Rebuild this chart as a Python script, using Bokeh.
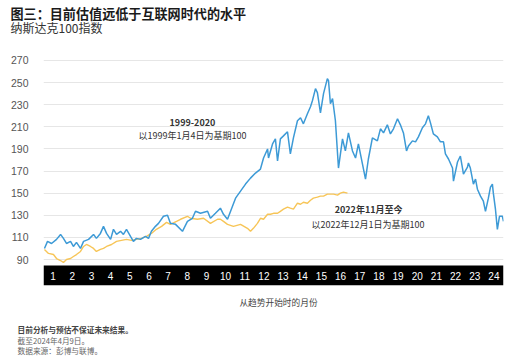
from bokeh.plotting import figure
from bokeh.models import Range1d, FixedTicker, ColumnDataSource
from bokeh.layouts import column
from bokeh.core.properties import value
from bokeh.embed import file_html
from bokeh.resources import INLINE

# ---- data ----
months = [str(i) for i in range(1, 25)]
y_ticks = [90, 110, 130, 150, 170, 190, 210, 230, 250, 270]

blue_m = [0.05, 0.21, 0.42, 0.68, 0.89, 1.04, 1.20, 1.41, 1.56, 1.72, 1.93, 2.09, 2.35, 2.61, 2.76,
          2.97, 3.13, 3.29, 3.50, 3.65, 3.81, 4.02, 4.17, 4.33, 4.54, 4.69, 4.85, 5.06, 5.32, 5.48,
          5.63, 5.84, 6.00, 6.26, 6.47, 6.62, 6.89, 7.25, 7.51, 7.77, 7.93, 8.19, 8.56, 8.71, 8.97,
          9.23, 9.39, 9.60, 9.86, 10.02, 10.28, 10.54, 10.80, 11.06, 11.32, 11.48, 11.69, 11.74,
          11.95, 12.10, 12.21, 12.36, 12.52, 12.73, 12.88, 13.04, 13.25, 13.41, 13.56, 13.77, 13.93,
          14.03, 14.19, 14.29, 14.45, 14.61, 14.81, 14.87, 14.97, 15.08, 15.23, 15.39, 15.60, 15.75,
          15.91, 16.12, 16.28, 16.43, 16.64, 16.80, 16.95, 17.16, 17.42, 17.58, 17.74, 17.94, 18.10,
          18.26, 18.47, 18.62, 18.78, 18.94, 19.04, 19.25, 19.41, 19.56, 19.77, 19.93, 20.08, 20.19,
          20.34, 20.55, 20.71, 20.87, 20.97, 21.13, 21.34, 21.39, 21.60, 21.75, 21.86, 21.91, 22.12,
          22.17, 22.27, 22.43, 22.54, 22.64, 22.80, 22.95, 23.06, 23.21, 23.32, 23.42, 23.47, 23.58,
          23.68, 23.79, 23.94, 24.00]
blue_v = [100.0, 106.4, 104.5, 108.2, 112.7, 109.1, 104.5, 106.4, 101.8, 105.5, 100.0, 106.4, 108.2,
          112.7, 109.1, 113.6, 120.0, 113.6, 108.2, 117.3, 112.7, 115.5, 112.7, 117.3, 110.9, 106.4,
          109.1, 108.2, 110.9, 109.1, 115.5, 120.0, 122.7, 129.1, 130.0, 122.7, 121.8, 115.5, 124.5,
          127.3, 133.6, 131.8, 133.6, 127.3, 131.8, 136.4, 130.9, 126.4, 138.2, 145.5, 151.8, 158.2,
          163.6, 168.2, 171.8, 181.8, 190.0, 181.8, 194.5, 199.1, 179.1, 199.1, 201.8, 205.5, 185.5,
          200.0, 215.5, 218.2, 212.7, 221.8, 228.2, 233.6, 244.5, 240.9, 222.7, 240.0, 253.6, 251.8,
          230.9, 235.5, 215.5, 172.7, 199.1, 188.2, 204.5, 188.2, 181.8, 194.5, 176.4, 162.7, 180.9,
          200.0, 197.3, 208.2, 204.5, 211.8, 203.6, 208.2, 217.3, 211.8, 204.5, 188.2, 192.7, 197.3,
          196.4, 200.9, 209.1, 212.7, 220.0, 213.6, 203.6, 200.9, 196.4, 196.4, 185.5, 180.9, 172.7,
          160.9, 178.2, 183.6, 172.7, 167.3, 173.6, 177.3, 172.7, 158.2, 162.7, 153.6, 147.3, 142.7,
          133.6, 145.5, 155.5, 158.2, 150.0, 135.5, 117.3, 129.1, 129.1, 124.5]

yellow_m = [0.05, 0.26, 0.52, 0.68, 0.89, 1.04, 1.20, 1.41, 1.56, 1.72, 1.93, 2.09, 2.24, 2.45, 2.61,
            2.76, 2.97, 3.13, 3.29, 3.55, 3.81, 4.07, 4.33, 4.59, 4.85, 5.11, 5.37, 5.63, 5.89, 6.16,
            6.42, 6.62, 6.94, 7.15, 7.51, 7.67, 8.03, 8.35, 8.71, 9.08, 9.23, 9.39, 9.60, 9.91, 10.28,
            10.64, 10.80, 10.95, 11.16, 11.32, 11.48, 11.69, 11.84, 12.00, 12.21, 12.36, 12.52, 12.73,
            12.88, 13.04, 13.25, 13.41, 13.56, 13.77, 13.93, 14.08, 14.29, 14.45, 14.61, 14.81, 14.97,
            15.13, 15.34, 15.49, 15.65, 15.86]
yellow_v = [99.1, 95.5, 94.5, 90.9, 89.1, 87.3, 90.0, 90.9, 92.7, 94.5, 97.3, 101.8, 103.6, 101.8,
            100.0, 97.3, 99.1, 100.0, 101.8, 103.6, 106.4, 107.3, 108.2, 107.3, 108.2, 109.1, 110.9,
            113.6, 117.3, 120.0, 123.6, 121.8, 124.5, 126.4, 129.1, 127.3, 126.4, 127.3, 122.7, 126.4,
            126.4, 124.5, 121.8, 120.0, 121.8, 118.2, 115.5, 118.2, 122.7, 127.3, 126.4, 130.9, 130.9,
            131.8, 131.8, 133.6, 135.5, 137.3, 136.4, 135.5, 140.9, 140.0, 141.8, 140.9, 143.6, 145.5,
            146.4, 147.3, 147.3, 149.1, 149.1, 149.1, 148.2, 150.0, 150.9, 150.0]

title_text = "图三：目前估值远低于互联网时代的水平"
subtitle_text = "纳斯达克100指数"
series1_title = "1999-2020"
series1_note = "以1999年1月4日为基期100"
series2_title = "2022年11月至今"
series2_note = "以2022年12月1日为基期100"
x_label = "从趋势开始时的月份"
foot_notes = ["目前分析与预估不保证未来结果。", "截至2024年4月9日。", "数据来源：彭博与联博。"]

BLUE = "#3d9ad6"
YELLOW = "#f7c557"
CJK = "Noto Sans CJK SC"
LAT = "Liberation Sans"
W = 530


def blank(height):
    f = figure(width=W, height=height, x_range=Range1d(0, W), y_range=Range1d(height, 0),
               output_backend="svg", toolbar_location=None, x_axis_location=None, y_axis_location=None,
               min_border=0, frame_align=False)
    f.title.visible = False
    f.outline_line_color = None
    f.xgrid.visible = False
    f.ygrid.visible = False
    return f


def txt(f, x, y, text, size, color, bold=False, align="left"):
    f.text(x=[x], y=[y], text=[text], text_font=value(CJK), text_font_size=size, text_color=color,
           text_font_style="bold" if bold else "normal", text_align=align, text_baseline="middle")


# ---- header ----
top = blank(40)
txt(top, 10, 13, title_text, "13.1px", "#1a1a1a", bold=True)
txt(top, 10, 26.5, subtitle_text, "12px", "#333333")

# ---- main chart ----
p = figure(width=W, height=250, x_range=Range1d(0, len(months)), y_range=Range1d(66.5, 274.5),
           output_backend="svg", toolbar_location=None, x_axis_location=None, frame_align=False,
           min_border_left=43, min_border_right=27, min_border_top=15, min_border_bottom=5)
p.title.visible = False
p.outline_line_color = None

yax = p.yaxis[0]
yax.ticker = FixedTicker(ticks=y_ticks)
yax.axis_line_color = None
yax.major_tick_line_color = None
yax.minor_tick_line_color = None
yax.major_label_standoff = 9
yax.major_label_text_font = LAT
yax.major_label_text_font_size = "10.5px"
yax.major_label_text_color = "#555555"

p.xgrid.visible = False
p.ygrid.ticker = FixedTicker(ticks=y_ticks)
p.ygrid.grid_line_color = "#e6e6e6"
p.ygrid.grid_line_width = 1

p.quad(left=[0], right=[len(months)], bottom=[66.5], top=[84.6], fill_color="black", line_color=None)
msrc = ColumnDataSource(dict(x=[i + 0.5 for i in range(len(months))], y=[75.5] * len(months), t=months))
p.text(x="x", y="y", text="t", source=msrc, text_color="white", text_font=value(LAT),
       text_font_size="10px", text_align="center", text_baseline="middle")

p.line(yellow_m, yellow_v, line_color=YELLOW, line_width=1.4)
p.line(blue_m, blue_v, line_color=BLUE, line_width=1.5)

txt(p, 7.77, 213.9, series1_title, "9px", "#333333", bold=True, align="center")
txt(p, 7.77, 202.2, series1_note, "9px", "#333333", align="center")
txt(p, 16.96, 135.2, series2_title, "9px", "#333333", bold=True, align="center")
txt(p, 16.93, 121.7, series2_note, "9px", "#333333", align="center")

# ---- footer ----
bot = blank(72)
txt(bot, 278, 12, x_label, "8.7px", "#444444", align="center")
txt(bot, 17, 39, foot_notes[0], "7.7px", "#444444", bold=True)
txt(bot, 17, 50.3, foot_notes[1], "7.7px", "#666666")
txt(bot, 17, 60.3, foot_notes[2], "7.7px", "#666666")

layout = column(top, p, bot, spacing=0)
open("out.html", "w").write(file_html(layout, INLINE))
